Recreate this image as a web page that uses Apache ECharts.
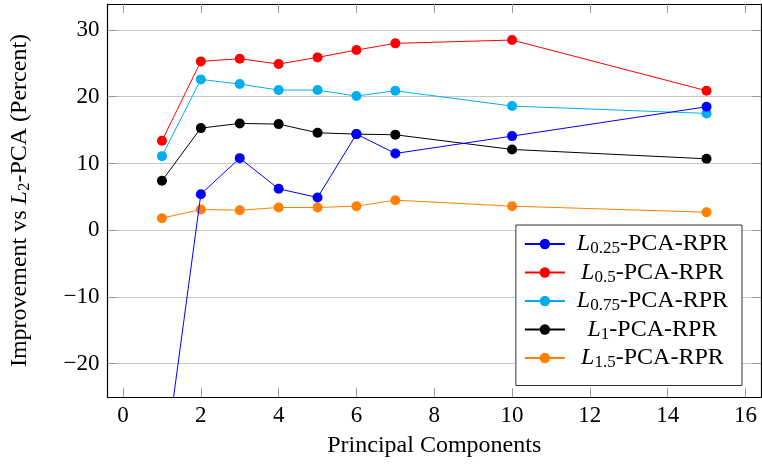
<!DOCTYPE html>
<html>
<head>
<meta charset="utf-8">
<script src="https://cdn.jsdelivr.net/npm/echarts@6/dist/echarts.min.js"></script>
<style>
  html, body { margin: 0; padding: 0; background: #fff; }
  #chart { width: 762px; height: 467px; }
</style>
</head>
<body>
<div id="chart"></div>
<script>
// Number of principal components
const components = [1, 2, 3, 4, 5, 6, 7, 10, 15];

// Improvement over L2-PCA, in percent
const l025 = [-38, 5.4, 10.8, 6.2, 4.9, 14.4, 11.5, 14.1, 18.5];
const l05  = [13.4, 25.3, 25.7, 24.9, 25.9, 27.0, 28.0, 28.5, 20.9];
const l075 = [11.1, 22.6, 21.9, 21.0, 21.0, 20.1, 20.9, 18.6, 17.5];
const l1   = [7.4, 15.3, 16.0, 15.9, 14.6, 14.4, 14.3, 12.1, 10.7];
const l15  = [1.8, 3.1, 3.0, 3.4, 3.4, 3.6, 4.5, 3.6, 2.7];

// Series names and their subscripts
const seriesNames = ['L0.25-PCA-RPR', 'L0.5-PCA-RPR', 'L0.75-PCA-RPR', 'L1-PCA-RPR', 'L1.5-PCA-RPR'];
const subscripts  = ['0.25', '0.5', '0.75', '1', '1.5'];

// Tick values
const xTicks = [0, 2, 4, 6, 8, 10, 12, 14, 16];
const yTicks = [-20, -10, 0, 10, 20, 30];

const colors = ['#0000ff', '#ff0000', '#00aeef', '#000000', '#ff8000'];
const values = [l025, l05, l075, l1, l15];

const serif = '"Liberation Serif", "DejaVu Serif", serif';
const mainSize = 24;
const subSize = 17;

const richStyles = {
  t: { fontFamily: serif, fontSize: mainSize, color: '#000' },
  L: { fontFamily: serif, fontSize: mainSize, fontStyle: 'italic', color: '#000' },
  s: { fontFamily: serif, fontSize: subSize, color: '#000', padding: [10, 0, 0, 0] }
};

// Measure legend labels so each one can be centred in the legend box
const ctx = document.createElement('canvas').getContext('2d');
function textWidth(str, size, italic) {
  ctx.font = (italic ? 'italic ' : '') + size + 'px ' + serif;
  return ctx.measureText(str).width;
}
const labelWidths = subscripts.map(s =>
  textWidth('L', mainSize, true) + textWidth(s, subSize, false) + textWidth('-PCA-RPR', mainSize, false));
const maxLabel = Math.max.apply(null, labelWidths);
const legendRich = Object.assign({}, richStyles);
subscripts.forEach((s, i) => {
  legendRich['p' + i] = { width: 7 + (maxLabel - labelWidths[i]) / 2, fontSize: mainSize };
});

const fmtTick = v => (v < 0 ? '\u2212' + (-v) : String(v));

const chart = echarts.init(document.getElementById('chart'), null, { renderer: 'canvas' });

const tickStyle = { inside: true, length: 9, lineStyle: { color: '#9a9a9a', width: 1 } };
const frameLine = { show: true, onZero: false, lineStyle: { color: '#000', width: 1.2 } };

const option = {
  animation: false,
  grid: {
    left: 107, right: 1, top: 4, bottom: 70,
    show: false
  },
  xAxis: [
    {
      type: 'value', min: -0.4, max: 16.4, position: 'bottom',
      name: 'Principal Components', nameLocation: 'middle', nameGap: 37,
      nameTextStyle: { fontFamily: serif, fontSize: 24, color: '#000' },
      axisLine: frameLine,
      axisTick: Object.assign({ customValues: xTicks }, tickStyle),
      axisLabel: { customValues: xTicks, fontFamily: serif, fontSize: 23, color: '#000', margin: 7, formatter: fmtTick },
      splitLine: { show: false }
    },
    {
      type: 'value', min: -0.4, max: 16.4, position: 'top',
      axisLine: frameLine,
      axisTick: Object.assign({ customValues: xTicks }, tickStyle),
      axisLabel: { show: false },
      splitLine: { show: false }
    }
  ],
  yAxis: [
    {
      type: 'value', min: -25, max: 33.9, position: 'left',
      name: '{t|Improvement vs }{L|L}{s|2}{t|-PCA (Percent)}',
      nameLocation: 'middle', nameGap: 74, nameRotate: 90,
      nameTextStyle: { rich: {
        t: { fontFamily: serif, fontSize: 24, color: '#000' },
        L: { fontFamily: serif, fontSize: 24, fontStyle: 'italic', color: '#000' },
        s: { fontFamily: serif, fontSize: 17, color: '#000', padding: [10, 0, 0, 0] }
      } },
      axisLine: frameLine,
      axisTick: Object.assign({ customValues: yTicks }, tickStyle),
      axisLabel: { customValues: yTicks, fontFamily: serif, fontSize: 23, color: '#000', margin: 8, formatter: fmtTick },
      splitLine: { show: true, lineStyle: { color: '#c8c8c8', width: 1 } }
    },
    {
      type: 'value', min: -25, max: 33.9, position: 'right',
      axisLine: frameLine,
      axisTick: Object.assign({ customValues: yTicks }, tickStyle),
      axisLabel: { show: false },
      splitLine: { show: false }
    }
  ],
  legend: {
    orient: 'vertical',
    right: 20, top: 225,
    padding: [7, 14, 14, 8],
    borderColor: '#333', borderWidth: 1, borderRadius: 0,
    backgroundColor: '#fff',
    itemWidth: 40, itemHeight: 13, itemGap: 3,
    data: seriesNames,
    formatter: name => {
      const i = seriesNames.indexOf(name);
      return '{p' + i + '|}{L|L}{s|' + subscripts[i] + '}{t|-PCA-RPR}';
    },
    textStyle: { rich: legendRich }
  },
  series: seriesNames.map((name, i) => ({
    name: name,
    type: 'line',
    xAxisIndex: 0, yAxisIndex: 0,
    data: components.map((c, j) => [c, values[i][j]]),
    symbol: 'circle', symbolSize: 10,
    clip: true,
    itemStyle: { color: colors[i] },
    lineStyle: { color: colors[i], width: 1 },
    z: 10 - i
  }))
};

chart.setOption(option);
</script>
</body>
</html>
